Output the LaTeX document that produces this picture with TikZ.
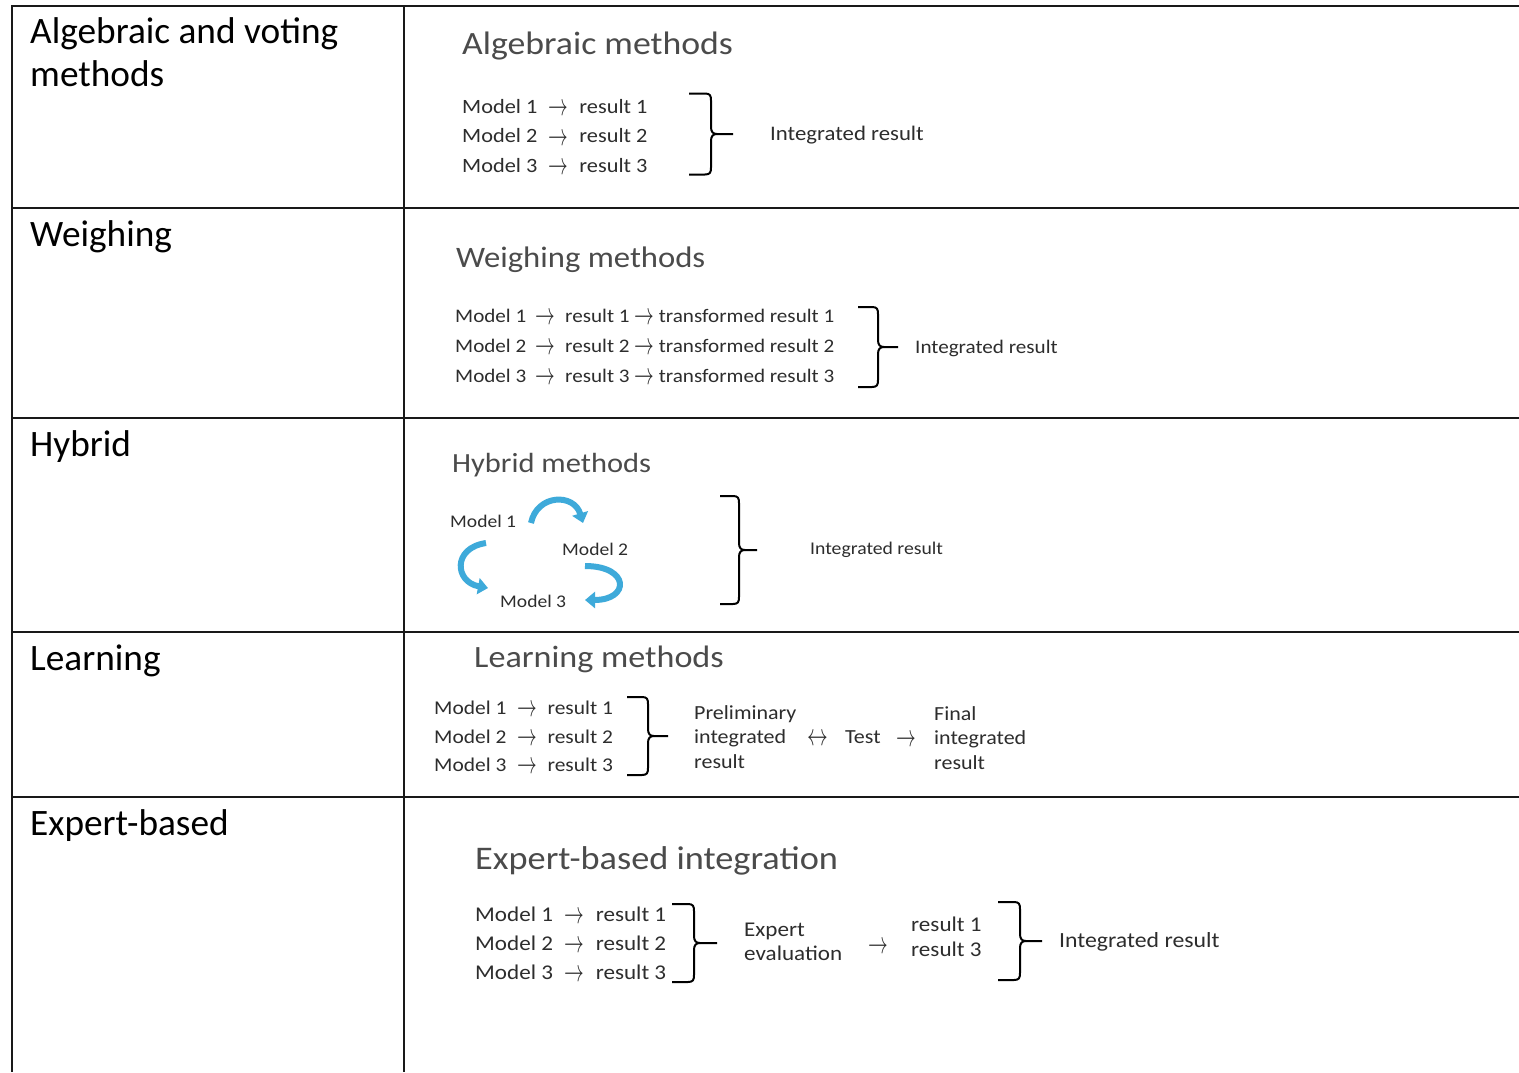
\documentclass[tikz,border=0pt]{standalone}
\usepackage{fontspec}
\setmainfont{Carlito}
\newfontfamily\labfont{Carlito}
\newfontfamily\rtfont[FakeStretch=1.1]{Carlito}
\usetikzlibrary{arrows.meta}
\definecolor{txtgray}{RGB}{45,45,45}
\definecolor{ttlgray}{RGB}{75,75,75}
\definecolor{hyblue}{RGB}{62,170,218}
\definecolor{rulecol}{RGB}{25,25,25}
\newcommand\setfs[1]{\fontsize{#1}{#1}\selectfont}
\newcommand\rar{\raisebox{-0.13em}{\scalebox{0.95}[1.5]{$\rightarrow$}}}
\newcommand\lrar{\raisebox{-0.13em}{\scalebox{1.0}[1.5]{$\leftrightarrow$}}}
\newcommand\arsp{\hspace{0.55em}\rar\hspace{0.55em}}
% right-facing brace: tip x, tip y, half height, width, offset of vertical, name
\newcommand\mybrace[6]{%
  \coordinate (#6) at (#1,#2);
  \draw[bracestyle] (#1-#4,#2-#3) -- (#1-#5-6,#2-#3)
    .. controls (#1-#5-1,#2-#3) and (#1-#5,#2-#3+2) .. (#1-#5,#2-#3+7)
    -- (#1-#5,#2-7)
    .. controls (#1-#5,#2-2) and (#1-#5+2,#2) .. (#1-#5+6,#2) -- (#6);
  \draw[bracestyle] (#1-#4,#2+#3) -- (#1-#5-6,#2+#3)
    .. controls (#1-#5-1,#2+#3) and (#1-#5,#2+#3-2) .. (#1-#5,#2+#3-7)
    -- (#1-#5,#2+7)
    .. controls (#1-#5,#2+2) and (#1-#5+2,#2) .. (#1-#5+6,#2);
}
\tikzset{
  rulestyle/.style={line width=2pt, draw=rulecol},
  bracestyle/.style={line width=2pt, draw=black, line join=round},
  lab/.style={anchor=base west, inner sep=0pt, text=black, font=\labfont\setfs{37.3}},
  ttl/.style={anchor=base west, inner sep=0pt, text=ttlgray, font=\rtfont\setfs{#1}},
  txt/.style={anchor=base west, inner sep=0pt, text=txtgray, font=\rtfont\setfs{#1}},
  harrow/.style={line width=6pt, draw=hyblue, -{Triangle[width=16pt,length=10pt]}},
}
\begin{document}
\begin{tikzpicture}[x=1pt,y=-1pt]
\useasboundingbox (0,0) rectangle (1519,1072);
\fill[white] (0,0) rectangle (1519,1072);
% table rules
\draw[rulestyle] (12,6) -- (1519,6);
\draw[rulestyle] (12,5) -- (12,1072);
\draw[rulestyle] (404,5) -- (404,1072);
\foreach \yy in {208,418,632,797} \draw[rulestyle] (12,\yy) -- (1519,\yy);
% left labels
\node[lab] (l1a) at (30,43) {Algebraic and voting};
\node[lab] (l1b) at (30,86) {methods};
\node[lab] (l2) at (30,246) {Weighing};
\node[lab] (l3) at (30,456) {Hybrid};
\node[lab] (l4) at (30,670) {Learning};
\node[lab] (l5) at (30,835) {Expert-based};
% row 1
\node[ttl=32.5] (a-t) at (462,54) {Algebraic methods};
\node[txt=20.3] (a-1) at (462,113) {Model 1\arsp result 1};
\node[txt=20.3] (a-2) at (462,142.5) {Model 2\arsp result 2};
\node[txt=20.3] (a-3) at (462,172) {Model 3\arsp result 3};
\mybrace{733}{134}{40.5}{44}{22}{a-b}
\node[txt=20.7] (a-r) at (770,140) {Integrated result};
% row 2
\node[ttl=29.7] (w-t) at (456,267) {Weighing methods};
\node[txt=19.2] (w-1) at (455,322) {Model 1\hspace{0.5em}\rar\hspace{0.5em}result 1 \rar\ transformed result 1};
\node[txt=19.2] (w-2) at (455,352) {Model 2\hspace{0.5em}\rar\hspace{0.5em}result 2 \rar\ transformed result 2};
\node[txt=19.2] (w-3) at (455,382) {Model 3\hspace{0.5em}\rar\hspace{0.5em}result 3 \rar\ transformed result 3};
\mybrace{898}{347}{40}{40}{20}{w-b}
\node[txt=19.2] (w-r) at (915,353) {Integrated result};
% row 3
\node[ttl=27.7] (h-t) at (452,472) {Hybrid methods};
\node[txt=17.8] (h-1) at (450,527) {Model 1};
\node[txt=17.8] (h-2) at (562,555) {Model 2};
\node[txt=17.8] (h-3) at (500,607) {Model 3};
\coordinate (h12s) at (531,523);
\coordinate (h12e) at (583,523);
\coordinate (h23s) at (585,566);
\coordinate (h23e) at (585,600);
\coordinate (h31s) at (486,543);
\coordinate (h31e) at (488,588);
\draw[harrow] (h12s) .. controls (537,494) and (574,493) .. (h12e);
\draw[harrow] (h23s) .. controls (630,566) and (630,600) .. (h23e);
\draw[harrow] (h31s) .. controls (452,548) and (455,582) .. (h31e);
\mybrace{757}{550}{54}{37}{18}{h-b}
\node[txt=17.9] (h-r) at (810,554) {Integrated result};
% row 4
\node[ttl=31] (l-t) at (474,667) {Learning methods};
\node[txt=19.5] (l-1) at (434,714) {Model 1\arsp result 1};
\node[txt=19.5] (l-2) at (434,743) {Model 2\arsp result 2};
\node[txt=19.5] (l-3) at (434,771) {Model 3\arsp result 3};
\mybrace{668}{736}{39}{41}{20}{l-b}
\node[txt=20] (l-p1) at (694,719) {Preliminary};
\node[txt=20] (l-p2) at (694,743) {integrated};
\node[txt=20] (l-p3) at (694,768) {result};
\node[txt=20] (l-lr) at (807,743) {\lrar};
\node[txt=20] (l-test) at (845,743) {Test};
\node[txt=20] (l-ar) at (896,744) {\rar};
\node[txt=20] (l-f1) at (934,720) {Final};
\node[txt=20] (l-f2) at (934,744) {integrated};
\node[txt=20] (l-f3) at (934,769) {result};
% row 5
\node[ttl=33] (e-t) at (475,869) {Expert-based integration};
\node[txt=21] (e-1) at (475,921) {Model 1\arsp result 1};
\node[txt=21] (e-2) at (475,950) {Model 2\arsp result 2};
\node[txt=21] (e-3) at (475,979) {Model 3\arsp result 3};
\mybrace{717}{943}{39}{45}{23}{e-b1}
\node[txt=21] (e-x1) at (744,936) {Expert};
\node[txt=21] (e-x2) at (744,960) {evaluation};
\node[txt=21] (e-ar) at (868,951) {\rar};
\node[txt=21] (e-r1) at (911,931) {result 1};
\node[txt=21] (e-r3) at (911,956) {result 3};
\mybrace{1042}{941}{39}{44}{22}{e-b2}
\node[txt=21.6] (e-r) at (1059,947) {Integrated result};
\end{tikzpicture}
\end{document}
